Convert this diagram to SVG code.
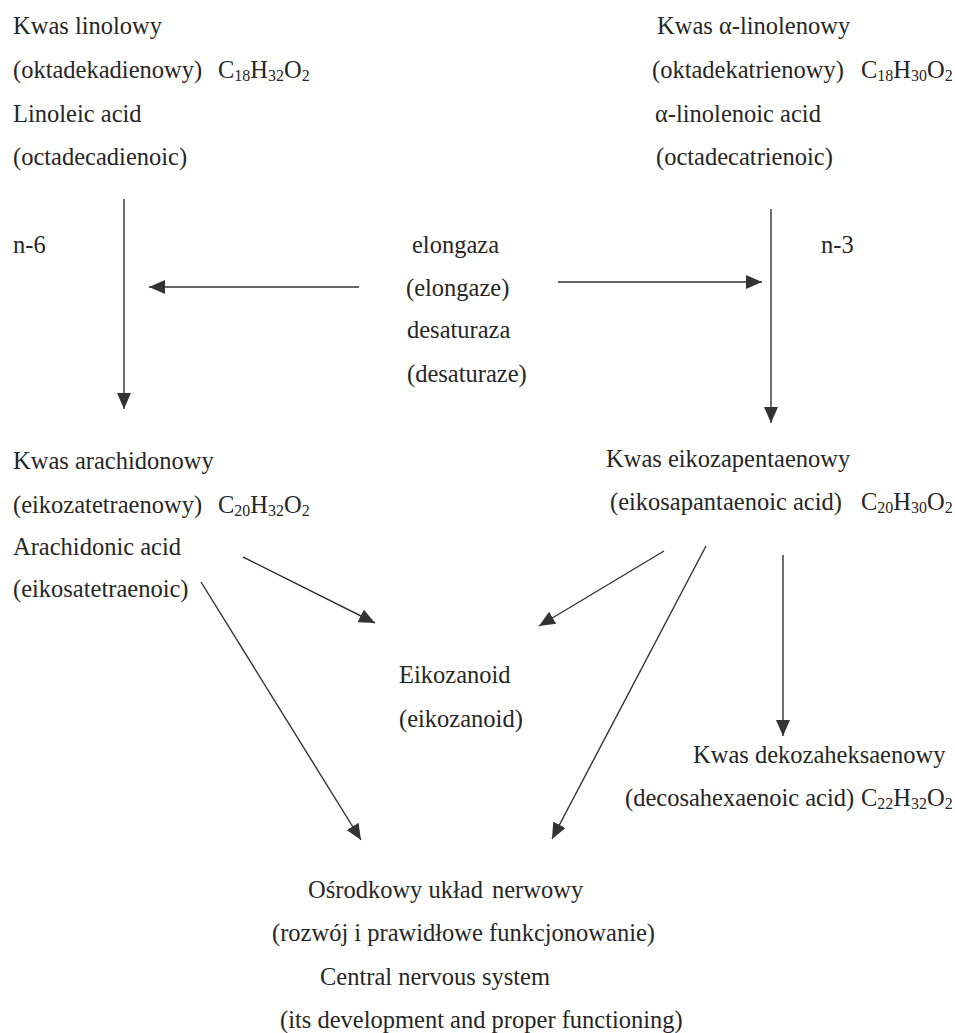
<svg xmlns="http://www.w3.org/2000/svg" width="955" height="1033" viewBox="0 0 955 1033">
<style>
text{font-family:"Liberation Serif","Times New Roman",serif;font-size:24.5px;fill:#262626}
.sub{font-size:16px}
.c line{stroke:#333;stroke-width:1.4;fill:none;marker-end:url(#ah)}
</style>
<defs>
<marker id="ah" markerUnits="userSpaceOnUse" viewBox="0 0 16 14" refX="16" refY="7" markerWidth="16" markerHeight="14" orient="auto">
<path d="M0,0 L16,7 L0,14 z" fill="#333"/>
</marker>
</defs>
<rect width="955" height="1033" fill="#fff"/>
<g id="linoleic">
<text x="13" y="34">Kwas linolowy</text>
<text x="13" y="78">(oktadekadienowy)<tspan x="218">C</tspan><tspan class="sub" dy="3">18</tspan><tspan dy="-3">H</tspan><tspan class="sub" dy="3">32</tspan><tspan dy="-3">O</tspan><tspan class="sub" dy="3">2</tspan></text>
<text x="13" y="122">Linoleic acid</text>
<text x="13" y="165">(octadecadienoic)</text>
</g>
<g id="alinolenic">
<text x="657" y="34">Kwas α-linolenowy</text>
<text x="652" y="78">(oktadekatrienowy)<tspan x="861">C</tspan><tspan class="sub" dy="3">18</tspan><tspan dy="-3">H</tspan><tspan class="sub" dy="3">30</tspan><tspan dy="-3">O</tspan><tspan class="sub" dy="3">2</tspan></text>
<text x="655" y="122">α-linolenoic acid</text>
<text x="656" y="165">(octadecatrienoic)</text>
</g>
<g id="n6"><text x="13" y="253">n-6</text></g>
<g id="n3"><text x="821" y="253">n-3</text></g>
<g id="enzymes">
<text x="412" y="253">elongaza</text>
<text x="406" y="296">(elongaze)</text>
<text x="407" y="338">desaturaza</text>
<text x="407" y="382">(desaturaze)</text>
</g>
<g id="arachidonic">
<text x="13" y="469">Kwas arachidonowy</text>
<text x="13" y="513">(eikozatetraenowy)<tspan x="218">C</tspan><tspan class="sub" dy="3">20</tspan><tspan dy="-3">H</tspan><tspan class="sub" dy="3">32</tspan><tspan dy="-3">O</tspan><tspan class="sub" dy="3">2</tspan></text>
<text x="13" y="555">Arachidonic acid</text>
<text x="13" y="597">(eikosatetraenoic)</text>
</g>
<g id="epa">
<text x="606" y="467">Kwas eikozapentaenowy</text>
<text x="610" y="510">(eikosapantaenoic acid)<tspan x="861">C</tspan><tspan class="sub" dy="3">20</tspan><tspan dy="-3">H</tspan><tspan class="sub" dy="3">30</tspan><tspan dy="-3">O</tspan><tspan class="sub" dy="3">2</tspan></text>
</g>
<g id="eikozanoid">
<text x="399" y="683">Eikozanoid</text>
<text x="399" y="727">(eikozanoid)</text>
</g>
<g id="dha">
<text x="693" y="763">Kwas dekozaheksaenowy</text>
<text x="625" y="806">(decosahexaenoic acid)<tspan x="861">C</tspan><tspan class="sub" dy="3">22</tspan><tspan dy="-3">H</tspan><tspan class="sub" dy="3">32</tspan><tspan dy="-3">O</tspan><tspan class="sub" dy="3">2</tspan></text>
</g>
<g id="cns">
<text x="308" y="898">Ośrodkowy układ<tspan x="492">nerwowy</tspan></text>
<text x="272" y="941">(rozwój i prawidłowe funkcjonowanie)</text>
<text x="320" y="985">Central nervous system</text>
<text x="280" y="1028">(its development and proper functioning)</text>
</g>
<g id="connectors" class="c">
<line x1="124" y1="199" x2="124" y2="409"/>
<line x1="359" y1="287" x2="149" y2="287"/>
<line x1="558" y1="282" x2="762" y2="282"/>
<line x1="771" y1="209" x2="771" y2="423"/>
<line x1="243" y1="557" x2="375" y2="623"/>
<line x1="201" y1="582" x2="361" y2="840"/>
<line x1="664" y1="551" x2="539" y2="626"/>
<line x1="706" y1="546" x2="552" y2="839"/>
<line x1="783" y1="555" x2="783" y2="736"/>
</g>
</svg>
